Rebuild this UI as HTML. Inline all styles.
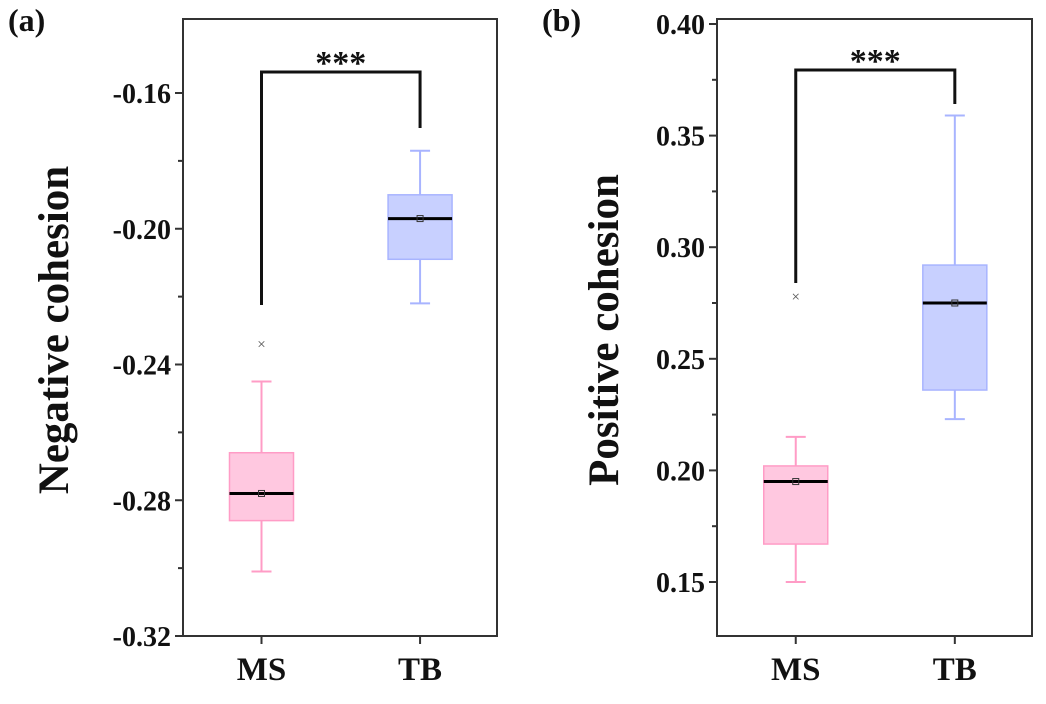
<!DOCTYPE html>
<html><head><meta charset="utf-8"><style>
body{margin:0;background:#fff}
text{font-family:"Liberation Serif",serif;font-weight:bold;fill:#111}
</style></head><body>
<svg id="c" width="1046" height="699" xmlns="http://www.w3.org/2000/svg"></svg>
<script>
const categories=["MS","TB"];
const negStats=[[-0.301,-0.286,-0.278,-0.266,-0.245],[-0.222,-0.209,-0.197,-0.190,-0.177]];
const negOutliers=[[-0.234],[]];
const negTicks=[-0.32,-0.28,-0.24,-0.20,-0.16];
const posStats=[[0.150,0.167,0.195,0.202,0.215],[0.223,0.236,0.275,0.292,0.359]];
const posOutliers=[[0.278],[]];
const posTicks=[0.15,0.20,0.25,0.30,0.35,0.40];
const NS="http://www.w3.org/2000/svg";
const svg=document.getElementById('c');
function mk(t,a,p){const e=document.createElementNS(NS,t);for(const k in a)e.setAttribute(k,a[k]);(p||svg).appendChild(e);return e;}
const fills=["#ffc8e0","#c8d0ff"],strokes=["#ff9cc6","#a8b4ff"];
function panel(o){
 const g=mk('g',{});
 
 
 const y=v=>o.y0+(v-o.v0)*(o.y1-o.y0)/(o.v1-o.v0);
 const xs=[o.left+(o.right-o.left)*0.25,o.left+(o.right-o.left)*0.755];
 const fr=mk('rect',{x:o.left,y:19,width:o.right-o.left,height:617,fill:'none',stroke:'#333','stroke-width':2},g);
 
 o.ticks.forEach((t,i)=>{
  mk('line',{x1:o.left-8,x2:o.left,y1:y(t),y2:y(t),stroke:'#333','stroke-width':2},g);
  if(i<o.ticks.length-1){const m=(t+o.ticks[i+1])/2;mk('line',{x1:o.left-5,x2:o.left,y1:y(m),y2:y(m),stroke:'#333','stroke-width':2},g);}
  const tl=mk('text',{x:o.left-12,y:y(t)+10,'text-anchor':'end','font-size':28},g);tl.textContent=o.fmt(t);
  
 });
 const yt=mk('text',{x:0,y:0,'text-anchor':'middle','font-size':43,transform:`translate(${o.titleX},330) rotate(-90)`},g);
 yt.textContent=o.title;
 const pl=mk('text',{x:o.left-175,y:31,'font-size':32},g);pl.textContent=o.label;
 
 categories.forEach((c,i)=>{
  const x=xs[i],s=o.stats[i],bw=32;
  mk('line',{x1:x,x2:x,y1:636,y2:644,stroke:'#333','stroke-width':2},g);
  const cl=mk('text',{x:x,y:680,'text-anchor':'middle','font-size':33},g);cl.textContent=c;
  
  const bg=mk('g',{},g);
  mk('line',{x1:x,x2:x,y1:y(s[0]),y2:y(s[4]),stroke:strokes[i],'stroke-width':2},bg);
  mk('line',{x1:x-10,x2:x+10,y1:y(s[0]),y2:y(s[0]),stroke:strokes[i],'stroke-width':2},bg);
  mk('line',{x1:x-10,x2:x+10,y1:y(s[4]),y2:y(s[4]),stroke:strokes[i],'stroke-width':2},bg);
  mk('rect',{x:x-bw,y:y(s[3]),width:bw*2,height:y(s[1])-y(s[3]),fill:fills[i],stroke:strokes[i],'stroke-width':1.5},bg);
  mk('line',{x1:x-bw,x2:x+bw,y1:y(s[2]),y2:y(s[2]),stroke:'#000','stroke-width':3},bg);
  mk('rect',{x:x-3,y:y(s[2])-3,width:6,height:6,fill:'none',stroke:'#333','stroke-width':1},bg);
  o.out[i].forEach(v=>{mk('text',{x:x,y:y(v)+5,'text-anchor':'middle','font-size':15,style:'font-weight:normal;fill:#555'},bg).textContent='×';});
 });
 const bl=mk('path',{d:`M${xs[0]},${o.brL} V${o.brTop} H${xs[1]} V${o.brR}`,fill:'none',stroke:'#111','stroke-width':3},g);
 
 const st=mk('text',{x:(xs[0]+xs[1])/2,y:o.brTop+2,'text-anchor':'middle','font-size':34},g);st.textContent='***';
 
}
panel({name:'panel-a',label:'(a)',title:'Negative cohesion',titleX:68,left:183,right:497,v0:-0.32,y0:636,v1:-0.16,y1:93,ticks:negTicks,stats:negStats,out:negOutliers,fmt:t=>t.toFixed(2),brTop:72,brL:305,brR:128});
panel({name:'panel-b',label:'(b)',title:'Positive cohesion',titleX:618,left:717,right:1032,v0:0.15,y0:582,v1:0.40,y1:24,ticks:posTicks,stats:posStats,out:posOutliers,fmt:t=>t.toFixed(2),brTop:70,brL:283,brR:104});
</script>
</body></html>
